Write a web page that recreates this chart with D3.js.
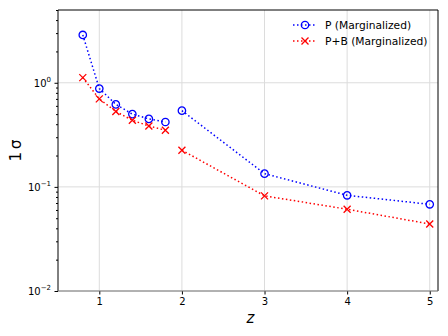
<!DOCTYPE html>
<html>
<head>
<meta charset="utf-8">
<script src="https://cdn.jsdelivr.net/npm/d3@7"></script>
<style>
  body { margin: 0; background: #fff; }
  text { font-family: "DejaVu Sans", sans-serif; }
</style>
</head>
<body>
<div id="chart"></div>
<script>
// redshift bins, split where the curves break
const zLow = [0.8, 1.0, 1.2, 1.4, 1.6, 1.8];
const zHigh = [2, 3, 4, 5];

// 1 sigma errors
const pLow = [2.88, 0.88, 0.62, 0.50, 0.45, 0.42];
const pHigh = [0.54, 0.134, 0.083, 0.068];
const pbLow = [1.12, 0.70, 0.53, 0.436, 0.385, 0.35];
const pbHigh = [0.225, 0.082, 0.061, 0.044];

const xTicks = [1, 2, 3, 4, 5];
const yTicks = [-2, -1, 0];

const series = [
  { name: 'P (Marginalized)', color: '#0000ff', marker: 'o', segs: [[zLow, pLow], [zHigh, pHigh]] },
  { name: 'P+B (Marginalized)', color: '#ff0000', marker: 'x', segs: [[zLow, pbLow], [zHigh, pbHigh]] },
];

const width = 448;
const height = 336;
const margin = { top: 10, right: 10, bottom: 45, left: 58 };
const iw = width - margin.left - margin.right;
const ih = height - margin.top - margin.bottom;

const x = d3.scaleLinear().domain([0.5, 5.1]).range([0, iw]);
const y = d3.scaleLog().domain([0.01, 5]).range([ih, 0]);

const svg = d3.select('#chart')
  .append('svg')
  .attr('width', width)
  .attr('height', height);

const g = svg.append('g')
  .attr('transform', `translate(${margin.left},${margin.top})`);

// grid
g.append('g').selectAll('line')
  .data(xTicks)
  .enter().append('line')
  .attr('x1', d => x(d)).attr('x2', d => x(d))
  .attr('y1', 0).attr('y2', ih)
  .attr('stroke', '#dcdcdc').attr('stroke-width', 1);

g.append('g').selectAll('line')
  .data(yTicks)
  .enter().append('line')
  .attr('x1', 0).attr('x2', iw)
  .attr('y1', d => y(Math.pow(10, d))).attr('y2', d => y(Math.pow(10, d)))
  .attr('stroke', '#dcdcdc').attr('stroke-width', 1);

// axes
const xAxis = g.append('g')
  .attr('transform', `translate(0,${ih})`)
  .call(d3.axisBottom(x).tickValues(xTicks).tickSize(3.5).tickPadding(3).tickFormat(d3.format('d')));
xAxis.select('.domain').remove();
xAxis.selectAll('text').attr('font-size', 10).attr('fill', '#000');

const minor = [];
for (let e = -2; e < 1; e++) {
  for (let k = 2; k <= 9; k++) {
    const v = k * Math.pow(10, e);
    if (v <= 5) minor.push(v);
  }
}
const yAxis = g.append('g')
  .call(d3.axisLeft(y).tickValues(minor).tickSize(2).tickFormat(''));
yAxis.select('.domain').remove();

const yMajor = g.append('g')
  .call(d3.axisLeft(y).tickValues(yTicks.map(d => Math.pow(10, d))).tickSize(3.5).tickFormat(''));
yMajor.select('.domain').remove();

yTicks.forEach(e => {
  const t = g.append('text')
    .attr('x', -7)
    .attr('y', y(Math.pow(10, e)) + 4)
    .attr('text-anchor', 'end')
    .attr('font-size', 10);
  t.append('tspan').text('10');
  t.append('tspan').attr('dy', -5).attr('font-size', 7).text('\u2212'.repeat(e < 0 ? 1 : 0) + Math.abs(e));
});

// lines and markers
const line = d3.line()
  .x(d => x(d[0]))
  .y(d => y(d[1]));

series.forEach(s => {
  s.segs.forEach(([zs, vs]) => {
    const pts = zs.map((z, i) => [z, vs[i]]);
    g.append('path')
      .datum(pts)
      .attr('d', line)
      .attr('fill', 'none')
      .attr('stroke', s.color)
      .attr('stroke-width', 1.5)
      .attr('stroke-dasharray', '1.5,2.5');

    const m = g.append('g').selectAll('g')
      .data(pts)
      .enter().append('g')
      .attr('transform', d => `translate(${x(d[0])},${y(d[1])})`);
    if (s.marker === 'o') {
      m.append('circle').attr('r', 3.7).attr('fill', 'none')
        .attr('stroke', s.color).attr('stroke-width', 1.3);
    } else {
      m.append('path').attr('d', 'M-3.5,-3.5L3.5,3.5M-3.5,3.5L3.5,-3.5')
        .attr('stroke', s.color).attr('stroke-width', 1.3);
    }
  });
});

// frame
g.append('line').attr('x1', 0).attr('x2', iw).attr('y1', 0).attr('y2', 0).attr('stroke', '#000');
g.append('line').attr('x1', 0).attr('x2', 0).attr('y1', 0).attr('y2', ih).attr('stroke', '#000');
g.append('line').attr('x1', iw).attr('x2', iw).attr('y1', 0).attr('y2', ih).attr('stroke', '#000');
g.append('line').attr('x1', 0).attr('x2', iw).attr('y1', ih).attr('y2', ih).attr('stroke', '#777');

// axis labels
svg.append('text')
  .attr('x', margin.left + x(2.83))
  .attr('y', 323)
  .attr('text-anchor', 'middle')
  .attr('font-size', 15)
  .attr('font-style', 'italic')
  .text('z');

svg.append('text')
  .attr('transform', `translate(21,${margin.top + ih / 2}) rotate(-90)`)
  .attr('text-anchor', 'middle')
  .attr('font-size', 15)
  .text('1\u2009\u03c3');

// legend
const legend = svg.append('g')
  .attr('transform', 'translate(293,25)');
series.forEach((s, i) => {
  const row = legend.append('g').attr('transform', `translate(0,${i * 16})`);
  row.append('line').attr('x1', 0).attr('x2', 24).attr('y1', 0).attr('y2', 0)
    .attr('stroke', s.color).attr('stroke-width', 1.5).attr('stroke-dasharray', '1.5,2.5');
  if (s.marker === 'o') {
    row.append('circle').attr('cx', 12).attr('r', 3.7).attr('fill', 'none')
      .attr('stroke', s.color).attr('stroke-width', 1.3);
  } else {
    row.append('path').attr('d', 'M8.5,-3.5L15.5,3.5M8.5,3.5L15.5,-3.5')
      .attr('stroke', s.color).attr('stroke-width', 1.3);
  }
  row.append('text').attr('x', 32).attr('y', 4).attr('font-size', 10.7).text(s.name);
});
</script>
</body>
</html>
